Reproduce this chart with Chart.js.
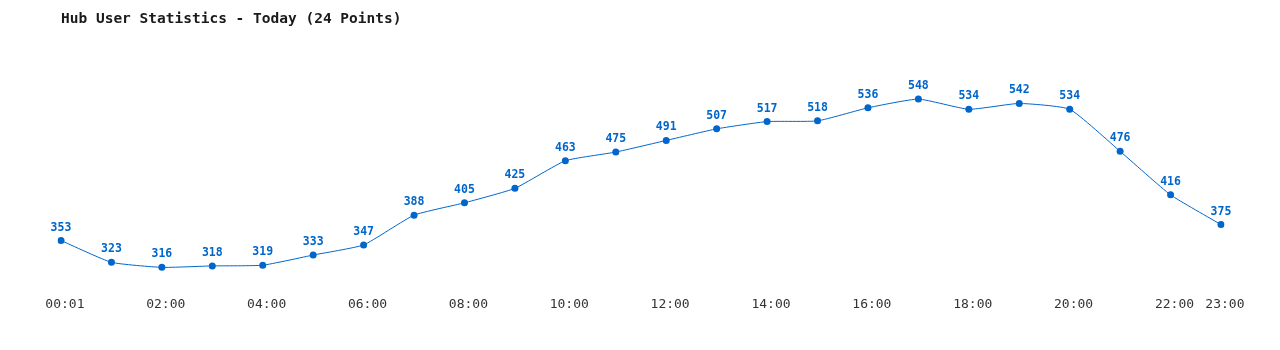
<!DOCTYPE html>
<html>
<head>
<meta charset="utf-8">
<script src="https://cdn.jsdelivr.net/npm/chart.js@4"></script>
<style>
html,body{margin:0;padding:0;background:#fff;}
#wrap{width:1280px;height:350px;position:relative;}
</style>
</head>
<body>
<div id="wrap"><canvas id="c"></canvas></div>
<script>
const categories = ["00:01","01:00","02:00","03:00","04:00","05:00","06:00","07:00","08:00","09:00","10:00","11:00","12:00","13:00","14:00","15:00","16:00","17:00","18:00","19:00","20:00","21:00","22:00","23:00"];
const users = [353,323,316,318,319,333,347,388,405,425,463,475,491,507,517,518,536,548,534,542,534,476,416,375];
const titleText = "Hub User Statistics - Today (24 Points)";

const blue = "#0066cc";
const mono = "'DejaVu Sans Mono', 'Liberation Mono', monospace";

const valueLabels = {
  id: 'valueLabels',
  afterDatasetsDraw(chart) {
    const ctx = chart.ctx;
    const meta = chart.getDatasetMeta(0);
    ctx.save();
    ctx.font = "bold 11.5px " + mono;
    ctx.fillStyle = blue;
    ctx.textAlign = 'center';
    ctx.textBaseline = 'middle';
    meta.data.forEach((pt, i) => {
      ctx.fillText(String(users[i]), pt.x, pt.y - 13);
    });
    ctx.restore();
  }
};

new Chart(document.getElementById('c'), {
  type: 'line',
  data: {
    labels: categories,
    datasets: [{
      data: users,
      borderColor: blue,
      backgroundColor: blue,
      borderWidth: 1,
      pointRadius: 3.5,
      pointHoverRadius: 3.5,
      pointBackgroundColor: blue,
      pointBorderWidth: 0,
      tension: 0.15,
      fill: false
    }]
  },
  options: {
    responsive: true,
    maintainAspectRatio: false,
    animation: false,
    layout: { padding: { left: 61, right: 59, top: 0, bottom: 30 } },
    plugins: {
      legend: { display: false },
      tooltip: { enabled: false },
      title: {
        display: true,
        text: titleText,
        align: 'start',
        color: '#1a1a1a',
        font: { family: mono, size: 14.5, weight: 'bold' },
        padding: { top: 11, bottom: 33 }
      }
    },
    scales: {
      x: {
        offset: false,
        grid: { display: false, drawTicks: false },
        border: { display: false },
        ticks: {
          autoSkip: false,
          maxRotation: 0,
          padding: 8,
          color: '#333',
          font: { family: mono, size: 13 },
          callback: function(v, i) {
            return (i % 2 === 0 || i === categories.length - 1) ? ' ' + categories[i] : '';
          }
        }
      },
      y: {
        display: false,
        min: 287,
        max: 600
      }
    }
  },
  plugins: [valueLabels]
});
</script>
</body>
</html>
